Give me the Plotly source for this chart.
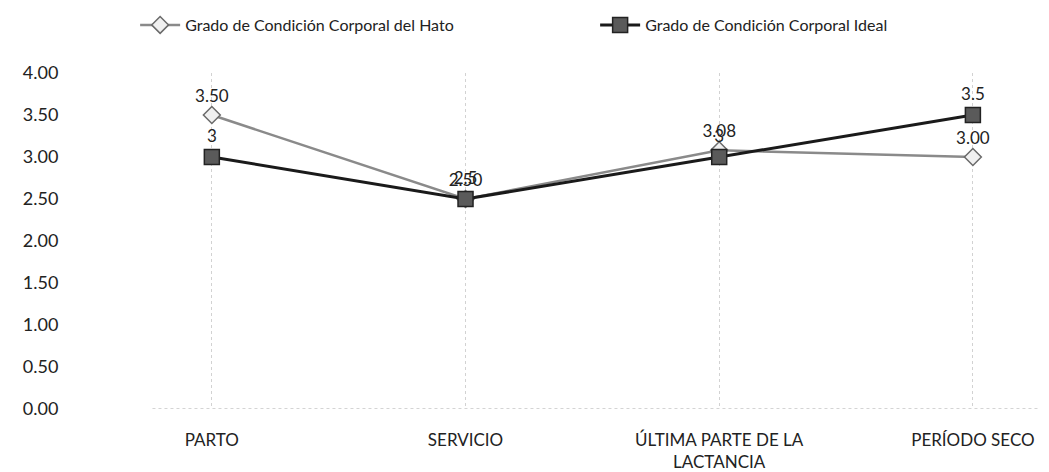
import plotly.graph_objects as go

categories = ["PARTO", "SERVICIO", "ÚLTIMA PARTE DE LA<br>LACTANCIA", "PERÍODO SECO"]
hato = [3.50, 2.50, 3.08, 3.00]
ideal = [3, 2.5, 3, 3.5]
y_ticks = [0, 0.5, 1, 1.5, 2, 2.5, 3, 3.5, 4]
y_tick_text = [f"{v:.2f}" for v in y_ticks]

FONT = "Lato, 'Open Sans', sans-serif"

fig = go.Figure()
fig.add_trace(go.Scatter(
    x=list(range(len(categories))), y=hato, name="Grado de Condición Corporal del Hato",
    mode="lines+markers+text",
    line=dict(color="#8a8a8a", width=2.5),
    marker=dict(symbol="diamond", size=13, color="#f0f0f0", line=dict(color="#6a6a6a", width=1.5)),
    text=[f"{v:.2f}" for v in hato], textposition="top center",
    textfont=dict(size=17, color="#222"),
))
fig.add_trace(go.Scatter(
    x=list(range(len(categories))), y=ideal, name="Grado de Condición Corporal Ideal",
    mode="lines+markers+text",
    line=dict(color="#1a1a1a", width=3),
    marker=dict(symbol="square", size=15, color="#5a5a5a", line=dict(color="#222", width=1.5)),
    text=[f"{v:g}" for v in ideal], textposition="top center",
    textfont=dict(size=17, color="#222"),
))

# dotted baseline at y = 0
fig.add_shape(type="line", xref="paper", yref="y", x0=0.07, x1=0.99, y0=0, y1=0,
              line=dict(color="#a8a8a8", width=1, dash="dot"))

fig.update_layout(
    width=1049, height=472,
    paper_bgcolor="white", plot_bgcolor="white",
    margin=dict(l=77, r=8, t=65, b=71, autoexpand=False),
    font=dict(family=FONT, size=16, color="#222"),
    showlegend=True,
    legend=dict(orientation="h", x=0.052, y=1.0, xref="paper", yref="container",
                xanchor="left", yanchor="top", font=dict(size=16),
                entrywidthmode="pixels", entrywidth=405, itemwidth=40),
    xaxis=dict(
        tickmode="array", tickvals=list(range(len(categories))), ticktext=categories,
        range=[-0.5, 3.3], showgrid=True, tickson="boundaries",
        gridcolor="#d2d2d2", griddash="dot", gridwidth=1,
        showline=False, ticks="", zeroline=False,
        tickfont=dict(size=17), ticklabelstandoff=19,
    ),
    yaxis=dict(
        range=[0, 4.0], tickvals=y_ticks, ticktext=y_tick_text,
        showgrid=False, zeroline=False, showline=False,
        ticks="outside", ticklen=22, tickcolor="rgba(0,0,0,0)",
        tickfont=dict(size=18),
    ),
)

fig.write_html("out.html")
